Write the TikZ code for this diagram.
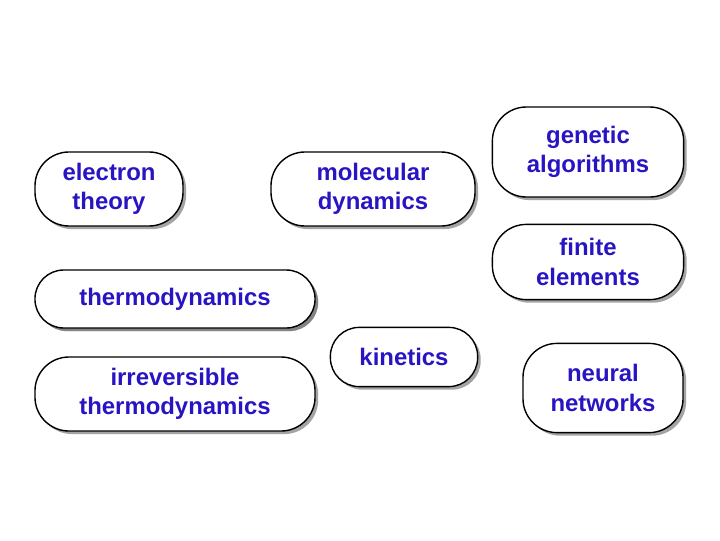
\documentclass[tikz,border=0pt]{standalone}
\usepackage{fontspec}
\setmainfont{Liberation Sans}
\definecolor{topicblue}{RGB}{40, 20, 195}
\usetikzlibrary{shadows}
\tikzset{
  topic/.style={rounded corners=0.85cm, draw, fill=white, line width=1pt, text=topicblue, font=\fontsize{17}{21}\selectfont\bfseries, align=center, inner sep=2pt, drop shadow={shadow xshift=2.2pt, shadow yshift=-2.2pt, fill=black!55, opacity=0.65}},
  thin/.style={topic, rounded corners=0.72cm},
  wide/.style={topic, minimum width=7cm},
}

\begin{document}
\begin{tikzpicture}[x=0.025cm, y=-0.025cm]
  \useasboundingbox (0,0) rectangle (720,540);
  \node[topic, minimum width=3.7cm, minimum height=1.85cm] (electron) at (109,189) {electron\\theory};
  \node[topic, minimum width=5.1cm, minimum height=1.85cm] (molecular) at (373,189) {molecular\\dynamics};
  \node[topic, minimum width=4.78cm, minimum height=2.25cm] (genetic) at (588,152) {genetic\\algorithms};
  \node[topic, minimum width=4.78cm, minimum height=1.88cm] (finite) at (588,262) {finite\\elements};
  \node[wide, thin, minimum height=1.45cm] (thermo) at (175,299) {thermodynamics};
  \node[thin, minimum width=3.68cm, minimum height=1.48cm] (kinetics) at (404,357) {kinetics};
  \node[topic, minimum width=4cm, minimum height=2.23cm] (neural) at (603,388) {neural\\networks};
  \node[wide, minimum height=1.85cm] (irrev) at (175,394) {irreversible\\thermodynamics};
\end{tikzpicture}
\end{document}
